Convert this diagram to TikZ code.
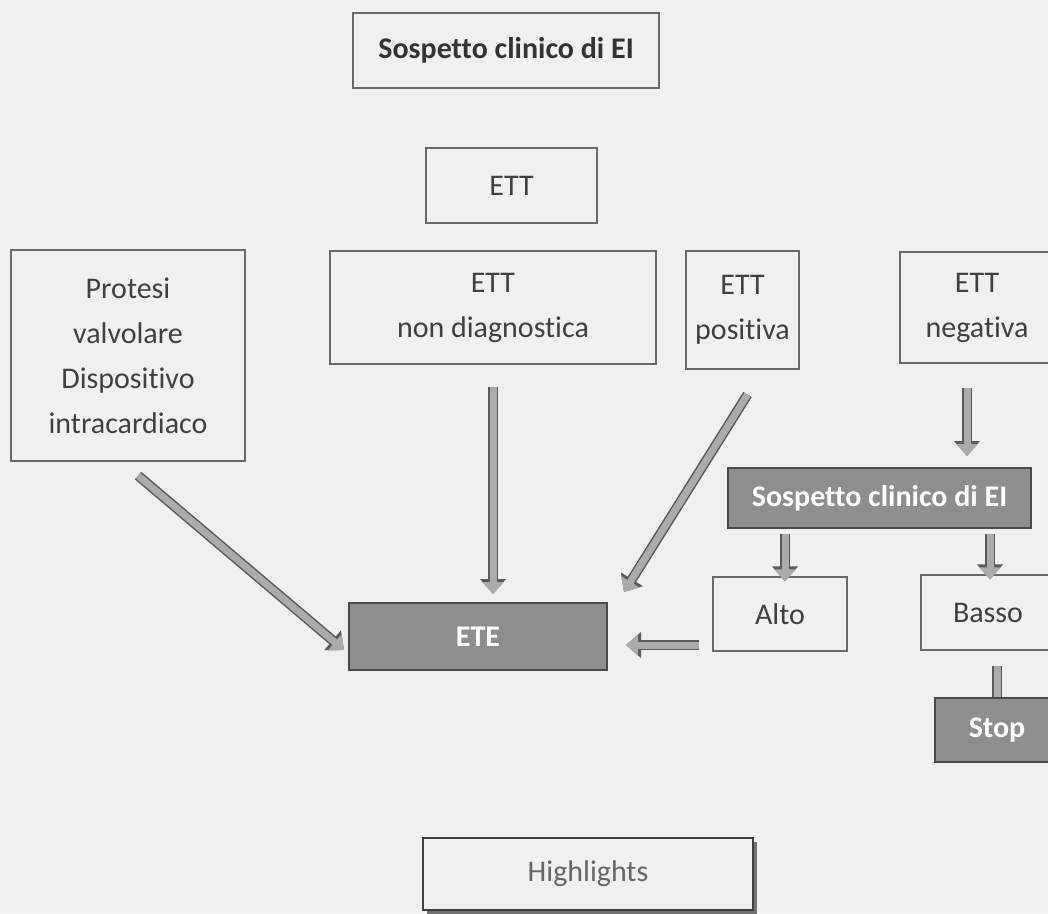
\documentclass[tikz,border=0pt]{standalone}
\usepackage{fontspec}
\setmainfont[Ligatures={NoCommon}]{Carlito}
\usetikzlibrary{arrows.meta,shadows}
\definecolor{bgc}{HTML}{F0F0F0}
\definecolor{boxline}{HTML}{6A6A6A}
\definecolor{txt}{HTML}{404040}
\definecolor{greyfill}{HTML}{8E8E8E}
\definecolor{greyline}{HTML}{4A4A4A}
\definecolor{arrfill}{HTML}{ABABAB}
\definecolor{arrline}{HTML}{5A5A5A}
\tikzset{
  plainbox/.style={draw=boxline, line width=1.1pt, fill=bgc, inner sep=0pt, align=center,
    text=txt, font=\fontsize{30}{45}\selectfont},
  greybox/.style={draw=greyline, line width=2pt, fill=greyfill, inner sep=0pt, align=center,
    text=white, font=\fontsize{30}{45}\selectfont\bfseries},
  fat/.style={line width=7pt, draw=arrfill, -{Triangle[width=21pt,length=12pt]},
    preaction={draw=arrline, line width=10pt, -{Triangle[width=25pt,length=15pt]}}},
  fatbar/.style={line width=7pt, draw=arrfill,
    preaction={draw=arrline, line width=10pt}},
}
\begin{document}
\begin{tikzpicture}[x=1pt,y=-1pt]
\useasboundingbox (0,0) rectangle (1048,913);
\clip (0,0) rectangle (1048,913);
\fill[bgc] (0,0) rectangle (1048,913);

\node[plainbox, minimum width=306pt, minimum height=75pt, text=black!80, font=\fontsize{30}{45}\selectfont\bfseries] (top) at (506,50.5) {Sospetto clinico di EI};
\node[plainbox, minimum width=171pt, minimum height=75pt] (ett) at (511.5,185.5) {ETT};
\node[plainbox, minimum width=234pt, minimum height=211pt] (prot) at (128,355.5) {Protesi\\valvolare\\Dispositivo\\intracardiaco};
\node[plainbox, minimum width=326pt, minimum height=113pt] (nd) at (493,307.5) {ETT\\non diagnostica};
\node[plainbox, minimum width=113pt, minimum height=118pt] (pos) at (742.5,310) {ETT\\positiva};
\node[plainbox, minimum width=154pt, minimum height=111pt] (neg) at (977,307.5) {ETT\\negativa};
\node[greybox, minimum width=303pt, minimum height=60pt] (sg) at (879.5,498) {Sospetto clinico di EI};
\node[plainbox, minimum width=134pt, minimum height=74pt] (alto) at (780,614) {Alto};
\node[plainbox, minimum width=134pt, minimum height=75pt] (basso) at (988,612.5) {Basso};
\node[greybox, minimum width=124pt, minimum height=64pt] (stop) at (997,730) {Stop};
\node[greybox, minimum width=258pt, minimum height=67pt] (ete) at (478,636.5) {ETE};
\node[plainbox, minimum width=330pt, minimum height=72pt, text=black!60, line width=1.5pt, draw=black!75,
  drop shadow={shadow xshift=4pt, shadow yshift=-4pt, fill=black!55, opacity=1}] (high) at (588,874) {Highlights};

% connectors
\draw[fat, shorten >=8pt] ([yshift=-22pt]nd.south) -- (nd.south |- ete.north);
\draw[fat] ([shift={(5pt,-25pt)}]pos.south) -- ([shift={(16pt,10pt)}]ete.north east);
\draw[fat] ([shift={(10pt,-14pt)}]prot.south) -- ([shift={(-4pt,-13.5pt)}]ete.west);
\draw[fat, shorten >=11pt] ([shift={(-10pt,-24pt)}]neg.south) -- ([xshift=-10pt]neg.south |- sg.north);
\draw[fat, shorten <=5pt, shorten >=-5pt] ([xshift=5pt]alto.north |- sg.south) -- ([xshift=5pt]alto.north);
\draw[fat, shorten <=5pt, shorten >=-5pt] ([xshift=2pt]basso.north |- sg.south) -- ([xshift=2pt]basso.north);
\draw[fatbar] ([yshift=-15pt]stop.north |- basso.south) -- (stop.north);
\draw[fat] ([shift={(-13pt,-31pt)}]alto.west) -- ([shift={(18pt,-8.5pt)}]ete.east);
\end{tikzpicture}
\end{document}
